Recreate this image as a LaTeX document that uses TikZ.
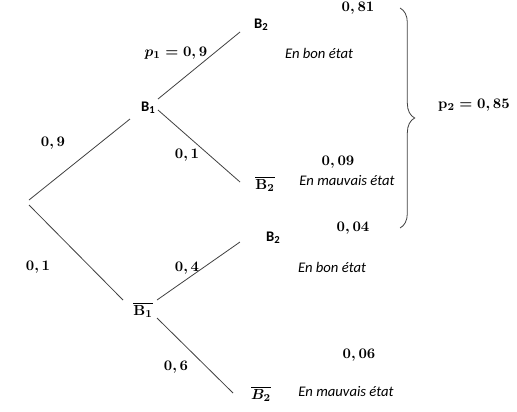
\documentclass[tikz,border=0pt]{standalone}
\usepackage{fontspec}
\newfontfamily\calibri{Carlito}
\usetikzlibrary{calc,decorations.pathreplacing}
\newcommand{\sbone}[1]{\raisebox{-0.3ex}{\fontsize{8}{8}\selectfont #1}}
\begin{document}
\begin{tikzpicture}[x=0.75pt,y=-0.75pt,
  branch/.style={line width=0.6pt, draw=black!75},
  ev/.style={inner sep=0pt, font=\fontsize{11}{13}\selectfont\calibri\bfseries},
  prob/.style={inner sep=0pt, font=\fontsize{11}{13}\selectfont\boldmath},
  note/.style={inner sep=0pt, font=\fontsize{11}{13}\selectfont\calibri\itshape}]
\useasboundingbox (0,0) rectangle (517,411);

% events
\coordinate (root) at (29,203);
\node[ev] (B1) at (148,108) {B\sbone{1}};
\node[prob] (B1bar) at (143,310) {$\overline{\mathbf{B_1}}$};
\node[ev] (B2a) at (261,25) {B\sbone{2}};
\node[prob] (B2b) at (265,184) {$\overline{\mathbf{B_2}}$};
\node[ev] (B2c) at (273,238) {B\sbone{2}};
\node[prob] (B2d) at (261,394) {$\overline{B_2}$};

% branches
\draw[branch] ($(root)+(0,-3)$) -- ($(B1)+(-18,11)$);
\draw[branch] ($(root)+(0,2)$) -- ($(B1bar)+(-20,-10)$);
\draw[branch] ($(B1)+(10,-9)$) -- ($(B2a)+(-21,7)$);
\draw[branch] ($(B1)+(10,2)$) -- ($(B2b)+(-25,-2)$);
\draw[branch] ($(B1bar)+(14,-10)$) -- ($(B2c)+(-33,4)$);
\draw[branch] ($(B1bar)+(14,8)$) -- ($(B2d)+(-28,-1)$);

% branch probabilities
\node[prob] (l1) at (53,143) {$0,9$};
\node[prob] (l2) at (38,267) {$0,1$};
\node[prob] (l3) at (176,53) {$p_1=0,9$};
\node[prob] (l4) at (187,155) {$0,1$};
\node[prob] (l5) at (187,268) {$0,4$};
\node[prob] (l6) at (176,367) {$0,6$};

% results
\node[prob] (r1) at (358,8) {$0,81$};
\node[prob] (r2) at (338,162) {$0,09$};
\node[prob] (r3) at (353,228) {$0,04$};
\node[prob] (r4) at (359,355) {$0,06$};
\node[note] (n1) at (319,53) {En bon état};
\node[note] (n2) at (347,181) {En mauvais état};
\node[note] (n3) at (332,267) {En bon état};
\node[note] (n4) at (346,391) {En mauvais état};

% brace
\draw[branch, decorate, decoration={brace, amplitude=11pt}] (400,8) -- (400,228);
\node[prob] (p2) at (474,105) {$\mathbf{p}_2=0,85$};
\end{tikzpicture}
\end{document}
